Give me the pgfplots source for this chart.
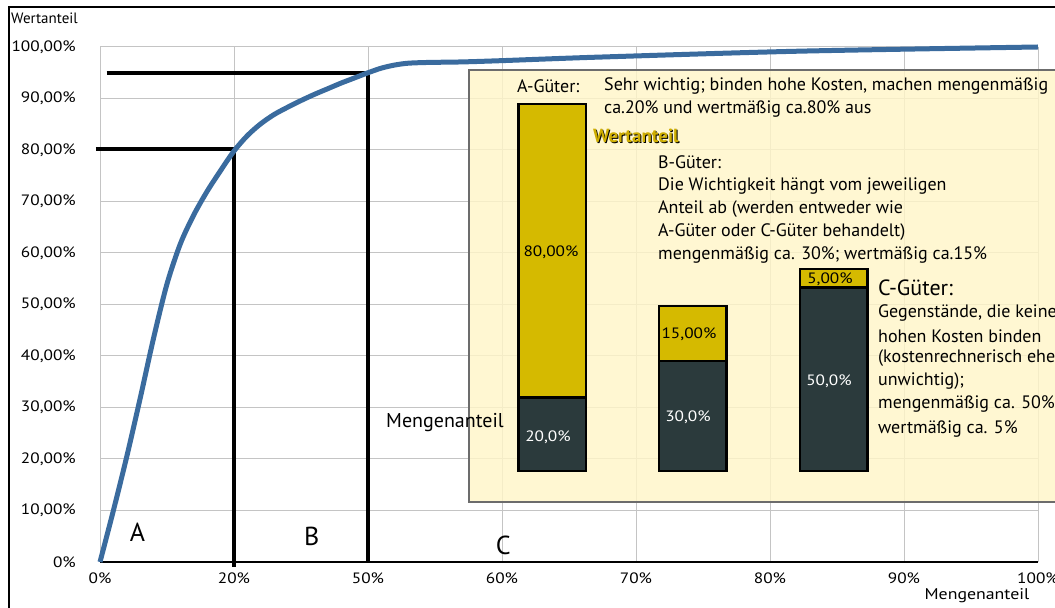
\documentclass[border=0pt]{standalone}
\usepackage{fontspec}
\setmainfont{PT Sans}
\newfontfamily\wide[FakeStretch=1.15]{PT Sans}
\usepackage{pgfplots}
\pgfplotsset{compat=1.18}
\definecolor{curve}{HTML}{3A6B9E}
\definecolor{goldbar}{HTML}{D5BA00}
\definecolor{darkbar}{HTML}{2B3A3C}
\definecolor{boxfill}{HTML}{FFF5C8}
\definecolor{gridc}{HTML}{C4C4C4}
\definecolor{goldtext}{HTML}{CFAE00}
\newcommand\fs[1]{\fontsize{#1bp}{#1bp}\selectfont}
\begin{document}
\begin{tikzpicture}
\useasboundingbox (0,0) rectangle (1055bp,608bp);
\begin{axis}[
  at={(100bp,46bp)}, anchor=south west, scale only axis,
  width=938bp, height=515bp,
  xmin=0, xmax=7, ymin=0, ymax=100,
  axis x line*=bottom, axis y line*=left,
  x axis line style={black, line width=1.5bp, -},
  y axis line style={gridc, line width=1bp, -},
  major tick length=0pt,
  grid=major, grid style={gridc, line width=1bp},
  xtick={0,...,7},
  xticklabels={0\%,20\%,50\%,60\%,70\%,80\%,90\%,100\%},
  ytick={0,10,...,100},
  yticklabels={0\%,{10,00\%},{20,00\%},{30,00\%},{40,00\%},{50,00\%},{60,00\%},{70,00\%},{80,00\%},{90,00\%},{100,00\%}},
  xticklabel style={font=\wide\fs{15}, inner sep=0pt, anchor=north, yshift=-11bp},
  yticklabel style={font=\wide\fs{15}, inner sep=0pt, anchor=east, xshift=-24bp},
  clip=false,
]
\addplot[black, line width=4bp] coordinates {(0.05,95) (2,95)};
\addplot[black, line width=4bp] coordinates {(-0.03,80.2) (1,80.2)};
\addplot[black, line width=3.5bp] coordinates {(1,80) (1,-1)};
\addplot[black, line width=3.5bp] coordinates {(2,95) (2,0)};
\addplot[curve, line width=5bp, smooth, tension=0.5] coordinates {
 (0,0) (0.1,10) (0.2,20.5) (0.3,31.8) (0.4,43.5) (0.5,54) (0.6,61.8)
 (0.7,67.4) (0.8,72) (0.9,76) (1.0,79.8) (1.1,82.8) (1.2,85.1) (1.3,86.9)
 (1.4,88.3) (1.5,89.6) (1.6,90.8) (1.7,91.9) (1.8,93.0) (1.9,94.0) (2.0,95.0)
 (2.1,95.9) (2.2,96.5) (2.3,96.85) (2.45,97.0) (2.7,97.1) (3.0,97.35)
 (3.74,98.05) (5.24,99.2) (7,100)};
\node[font=\fs{26}] at (axis cs:0.28,5.8) {A};
\node[font=\fs{26}] at (axis cs:1.58,4.9) {B};
\node[font=\fs{26}] at (axis cs:3.01,3.3) {C};
\end{axis}
\begin{scope}[x=1bp,y=-1bp,yshift=608bp]
  \fill[boxfill, fill opacity=0.82] (469,70) rectangle (1060,502);
  \draw[gray!85!black, line width=1.3bp] (1060,70) -- (469,70) -- (469,502) -- (1060,502);
  \draw[black, line width=2.5bp] (9,608) -- (9,7) -- (1055,7);
  \node[anchor=west, inner sep=0pt, font=\fs{15}] at (11,18) {Wertanteil};
  \node[inner sep=0pt, font=\wide\fs{15.5}] at (977,596) {Mengenanteil};
  \begin{scope}[every node/.style={anchor=west, inner sep=0pt, font=\fs{18}}]
  \node at (517,86) {A-Güter:};
  \node at (604,86) {Sehr wichtig; binden hohe Kosten, machen mengenmäßig};
  \node at (604,109) {ca.20\% und wertmäßig ca.80\% aus};
  \node[font=\fs{19}\bfseries, text=black] at (594,137) {Wertanteil};
  \node[font=\fs{19}\bfseries, text=goldtext] at (593,136) {Wertanteil};
  \node at (658,162) {B-Güter:};
  \node at (658,186) {Die Wichtigkeit hängt vom jeweiligen};
  \node at (658,209) {Anteil ab (werden entweder wie};
  \node at (658,232) {A-Güter oder C-Güter behandelt)};
  \node at (658,255) {mengenmäßig ca. 30\%; wertmäßig ca.15\%};
  \node[font=\fs{22}] at (878,288) {C-Güter:};
  \node at (878,313) {Gegenstände, die keine};
  \node at (878,336) {hohen Kosten binden};
  \node at (878,358) {(kostenrechnerisch eher};
  \node at (878,381) {unwichtig);};
  \node at (878,404) {mengenmäßig ca. 50\%,};
  \node at (878,429) {wertmäßig ca. 5\%};
  \node[font=\fs{20}] at (386,423) {Mengenanteil};
  \end{scope}
\end{scope}
\begin{axis}[
  at={(411.25bp,137bp)}, anchor=south west, scale only axis,
  width=563bp, height=367bp,
  xmin=0, xmax=4, ymin=0, ymax=100,
  hide axis, ybar stacked, bar width=67.5bp, clip=false,
]
\addplot[fill=darkbar, draw=black, line width=2.5bp] coordinates {(1,20) (2,30) (3,50)};
\addplot[fill=goldbar, draw=black, line width=2.5bp] coordinates {(1,80) (2,15) (3,5)};
\end{axis}
\begin{scope}[x=1bp,y=-1bp,yshift=608bp, every node/.style={inner sep=0pt, font=\wide\fs{15}}]
  \node at (551,252) {80,00\%};
  \node[text=white] at (548,437) {20,0\%};
  \node at (689,334) {15,00\%};
  \node[text=white] at (688,417) {30,0\%};
  \node[text=white] at (829,381) {50,0\%};
  \node at (830,279) {5,00\%};
\end{scope}
\end{tikzpicture}
\end{document}
